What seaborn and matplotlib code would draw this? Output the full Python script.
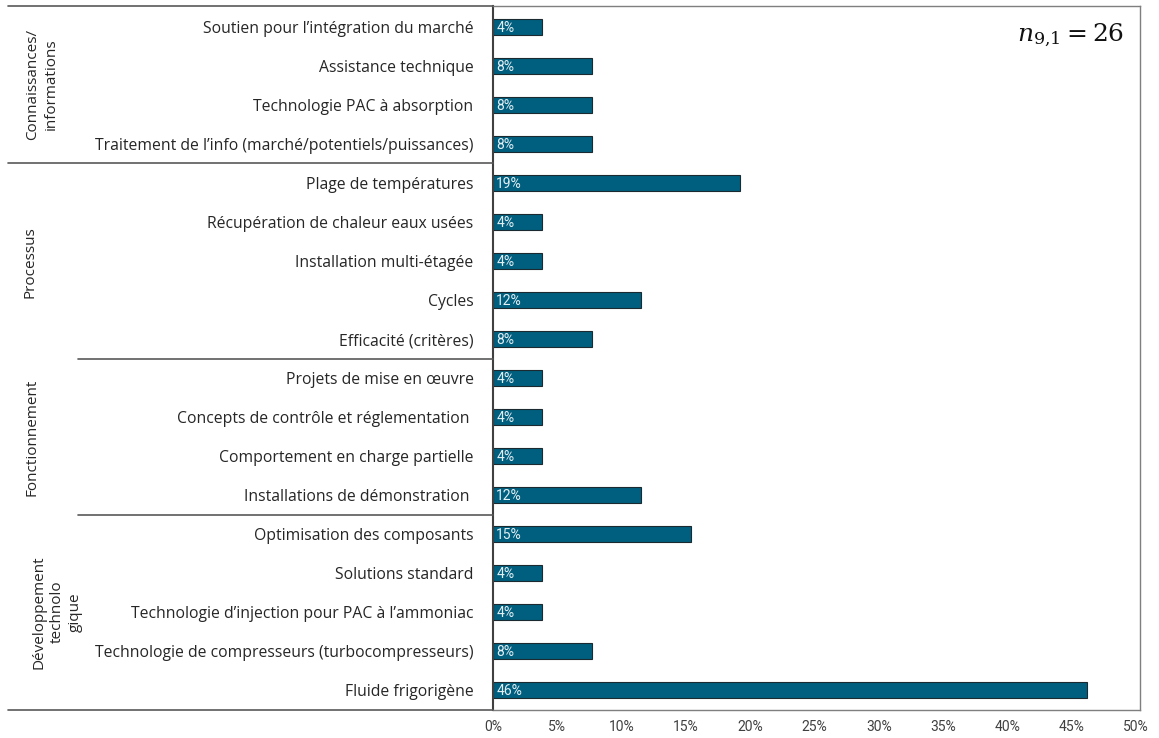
import matplotlib
matplotlib.use("Agg")
import matplotlib.pyplot as plt
from matplotlib.lines import Line2D
import seaborn as sns
import pandas as pd

categories = [
    "Soutien pour l\u2019intégration du marché",
    "Assistance technique",
    "Technologie PAC à absorption",
    "Traitement de l\u2019info (marché/potentiels/puissances)",
    "Plage de températures",
    "Récupération de chaleur eaux usées",
    "Installation multi-étagée",
    "Cycles",
    "Efficacité (critères)",
    "Projets de mise en \u0153uvre",
    "Concepts de contrôle et réglementation ",
    "Comportement en charge partielle",
    "Installations de démonstration ",
    "Optimisation des composants",
    "Solutions standard",
    "Technologie d\u2019injection pour PAC à l\u2019ammoniac",
    "Technologie de compresseurs (turbocompresseurs)",
    "Fluide frigorigène",
]
counts = [1, 2, 2, 2, 5, 1, 1, 3, 2, 1, 1, 1, 3, 4, 1, 1, 2, 12]
n_total = 26
groups = ["Connaissances/\ninformations", "Processus", "Fonctionnement",
          "Développement\ntechnolo\ngique"]
group_sizes = [4, 5, 4, 5]
xticks = [0, 0.05, 0.10, 0.15, 0.20, 0.25, 0.30, 0.35, 0.40, 0.45, 0.50]

shares = [c / n_total for c in counts]
df = pd.DataFrame({"cat": categories, "share": shares})

sns.set_theme(style="white")
plt.rcParams["font.family"] = ["Open Sans", "DejaVu Sans"]

W, H = 1159, 738
fig = plt.figure(figsize=(W / 100, H / 100), dpi=100)
ax = fig.add_axes([493 / W, 1 - 710 / H, (1140 - 493) / W, (710 - 6) / H])

bar_color = "#005F7F"
sns.barplot(data=df, y="cat", x="share", order=categories, orient="h",
            color=bar_color, width=0.42, edgecolor="#1a2a30", linewidth=0.8,
            saturation=1, ax=ax)

for p, s in zip(ax.patches, shares):
    ax.text(p.get_x() + 0.0025, p.get_y() + p.get_height() / 2 + 0.02,
            f"{round(s * 100):.0f}%", color="#e3eff3", fontsize=10,
            va="center", ha="left", family=["Roboto", "DejaVu Sans"])

ax.set_xlim(0, 0.503)
ax.set_ylim(len(categories) - 0.49, -0.54)
ax.set_xticks(xticks)
ax.set_xticklabels([f"{round(t * 100)}%" for t in xticks],
                   family=["Roboto", "DejaVu Sans"],
                   fontsize=10, color="#404040")
ax.set_xlabel("")
ax.set_ylabel("")
ax.tick_params(axis="y", length=0, pad=14, labelsize=11.3, labelcolor="#262626")
ax.tick_params(axis="x", length=0, pad=7)
for sp in ax.spines.values():
    sp.set_color("#7f7f7f")
    sp.set_linewidth(1.0)
ax.spines["left"].set_color("#404040")
ax.spines["left"].set_linewidth(1.5)

ax.text(0.975, 0.958, r"$n_{9{,}1} = 26$", transform=ax.transAxes, ha="right",
        va="center", fontsize=18, color="#111111",
        math_fontfamily="dejavuserif")

# group frame lines (figure coords)
def hline(x0, x1, y, color="#595959", lw=1.2):
    fig.add_artist(Line2D([x0 / W, x1 / W], [1 - y / H, 1 - y / H],
                          color=color, lw=lw))

hline(8, 493, 6)
hline(8, 493, 163)
hline(78, 493, 359)
hline(78, 493, 515)
hline(8, 493, 710)

# group labels
grp_pos = [(42, 84), (30, 262), (32, 437), (57, 612)]
for g, (gx, gy) in zip(groups, grp_pos):
    fig.text(gx / W, 1 - gy / H, g, rotation=90, ha="center", va="center",
             fontsize=11, color="#262626", linespacing=1.3)

fig.savefig("out.png", dpi=100)
